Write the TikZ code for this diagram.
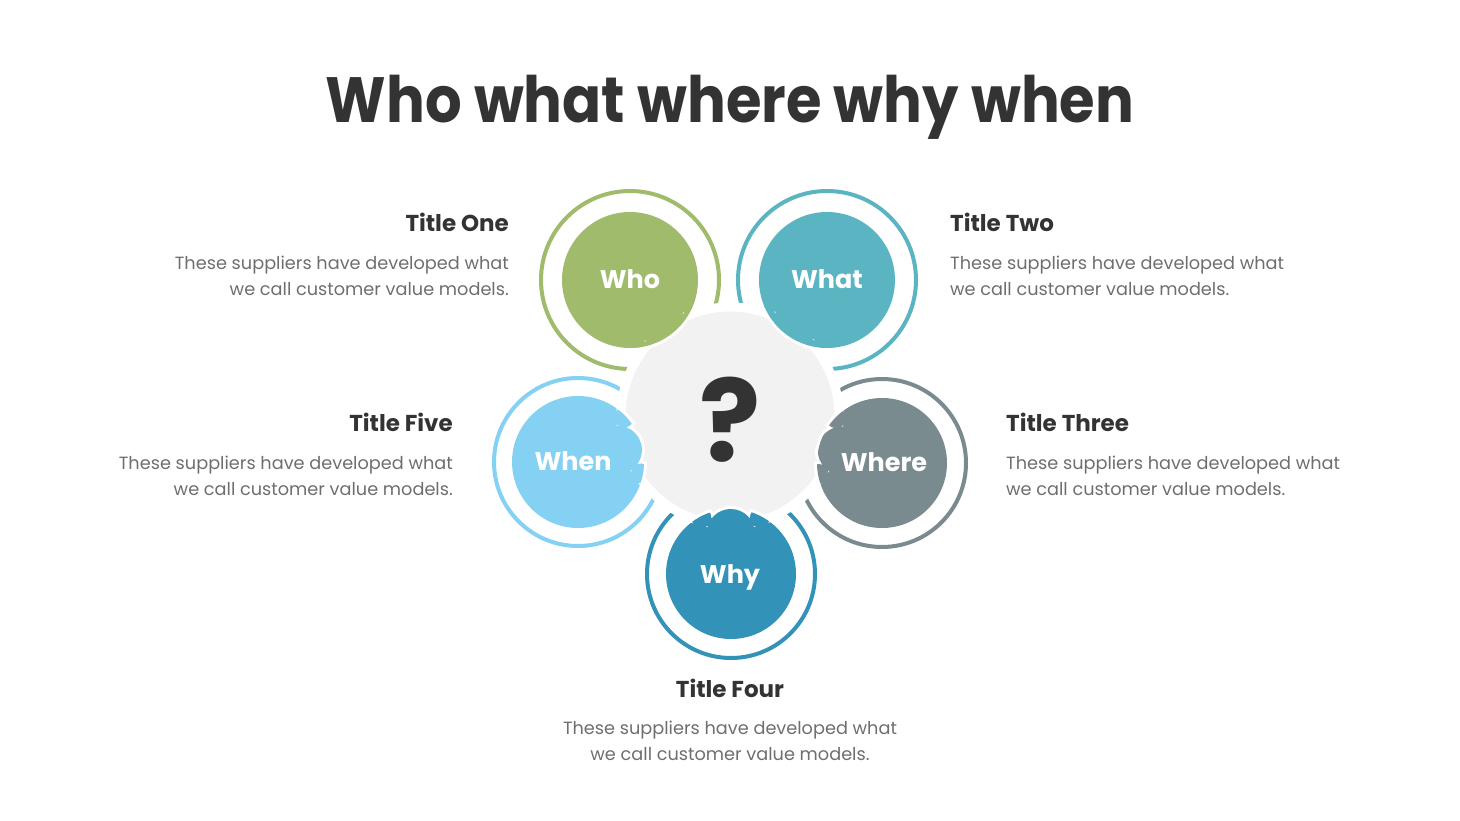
\documentclass[tikz,border=0pt]{standalone}
\usepackage{fontspec}
\setmainfont{Poppins}
\usetikzlibrary{calc}
\definecolor{cwho}{HTML}{9FBB6B}
\definecolor{cwhat}{HTML}{5AB4C1}
\definecolor{cwhen}{HTML}{85D1F3}
\definecolor{cwhere}{HTML}{7A8B8F}
\definecolor{cwhy}{HTML}{3392B8}
\definecolor{cgray}{HTML}{F2F2F2}
\definecolor{cdark}{HTML}{333333}
\definecolor{ctext}{HTML}{6E6E6E}
\begin{document}
\begin{tikzpicture}[x=1pt,y=-1pt,
  head/.style={font=\bfseries\fontsize{23}{28}\selectfont,text=cdark,inner sep=0},
  body/.style={font=\fontsize{17.7}{26}\selectfont,text=ctext,inner sep=0},
  word/.style={font=\bfseries\fontsize{25.5}{30}\selectfont,text=white,inner sep=0}]
\useasboundingbox (0,0) rectangle (1460,821);
\node[font=\bfseries\fontsize{64}{70}\selectfont,text=cdark,anchor=base,inner sep=0,xscale=0.9] (title) at (730,123) {Who what where why when};
\coordinate (g) at (730,416);
\foreach \n/\x/\y/\R/\r in {who/630/280/89/68,what/827/280/89/68,when/578/462/84/66,where/882/463/84/65,why/731/574/84/65}{
  \coordinate (\n) at (\x,\y);
  \draw[color=c\n,line width=4] (\n) circle (\R);
  \fill[fill=c\n] (\n) circle (\r);
}
\draw[fill=cgray,draw=white,line width=9] (g) circle (109);
\foreach \n/\r in {who/68,what/68,when/66,where/65,why/65}{
  \begin{scope}
    \clip (g) circle (113);
    \clip (\n) circle (\r+3);
    \fill[white] ($(g)!117pt!(\n)$) circle (27) ($(g)!106pt!16:(\n)$) circle (13) ($(g)!106pt!-16:(\n)$) circle (13);
  \end{scope}
  \begin{scope}
    \clip (\n) circle (\r);
    \fill[fill=c\n] ($(g)!117pt!(\n)$) circle (24) ($(g)!106pt!16:(\n)$) circle (10) ($(g)!106pt!-16:(\n)$) circle (10);
  \end{scope}
}
\node[font=\bfseries\fontsize{114}{114}\selectfont,text=cdark,anchor=base,inner sep=0] (q) at (730,461) {?};
\node[word,anchor=base] (wwho) at (630,289) {Who};
\node[word,anchor=base] (wwhat) at (827,289) {What};
\node[word,anchor=base] (wwhen) at (573,470) {When};
\node[word,anchor=base] (wwhere) at (884,471) {Where};
\node[word,anchor=base] (wwhy) at (730,583) {Why};
\node[head,anchor=base east] (h1) at (509,232) {Title One};
\node[body,anchor=base east] (b1a) at (509,270) {These suppliers have developed what};
\node[body,anchor=base east] (b1b) at (509,296) {we call customer value models.};
\node[head,anchor=base west] (h2) at (950,232) {Title Two};
\node[body,anchor=base west] (b2a) at (950,270) {These suppliers have developed what};
\node[body,anchor=base west] (b2b) at (950,296) {we call customer value models.};
\node[head,anchor=base west] (h3) at (1006,431) {Title Three};
\node[body,anchor=base west] (b3a) at (1006,469) {These suppliers have developed what};
\node[body,anchor=base west] (b3b) at (1006,495) {we call customer value models.};
\node[head,anchor=base east] (h5) at (453,431) {Title Five};
\node[body,anchor=base east] (b5a) at (453,469) {These suppliers have developed what};
\node[body,anchor=base east] (b5b) at (453,495) {we call customer value models.};
\node[head,anchor=base] (h4) at (730,697) {Title Four};
\node[body,anchor=base] (b4a) at (730,734) {These suppliers have developed what};
\node[body,anchor=base] (b4b) at (730,760) {we call customer value models.};
\end{tikzpicture}
\end{document}
